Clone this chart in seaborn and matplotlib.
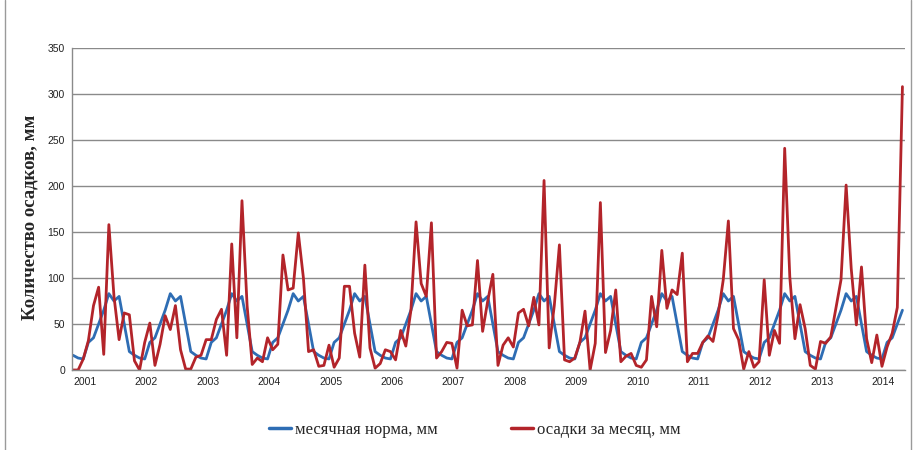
import matplotlib

matplotlib.use("Agg")
import matplotlib.pyplot as plt
from matplotlib.lines import Line2D
import numpy as np
import pandas as pd
import seaborn as sns

# monthly norm, starting from the month of the first point
norm_cycle = [16, 13, 12, 30, 35, 50, 65, 83, 75, 80, 50, 20]

# monthly precipitation, mm
rain = [
    0, 0, 12, 32, 70, 90, 17, 158, 80, 33, 62, 60,
    10, 0, 30, 51, 5, 28, 59, 44, 70, 22, 1, 1,
    14, 16, 33, 33, 55, 66, 16, 137, 35, 184, 70, 6,
    13, 9, 35, 22, 28, 125, 87, 89, 149, 100, 20, 22,
    4, 5, 27, 3, 13, 91, 91, 40, 14, 114, 24, 2,
    7, 22, 20, 11, 43, 26, 65, 161, 94, 80, 160, 13,
    20, 30, 29, 2, 65, 48, 49, 119, 42, 75, 104, 5,
    27, 35, 25, 62, 66, 48, 79, 49, 206, 24, 70, 136,
    11, 9, 13, 30, 64, 0, 29, 182, 19, 43, 87, 9,
    15, 18, 5, 3, 11, 80, 47, 130, 67, 87, 82, 127,
    9, 18, 18, 30, 37, 31, 60, 98, 162, 45, 33, 1,
    20, 3, 9, 98, 16, 43, 29, 241, 101, 34, 71, 45,
    5, 1, 31, 29, 36, 67, 98, 201, 110, 49, 112, 34,
    8, 38, 4, 25, 40, 68, 308,
]
years = [str(y) for y in range(2001, 2015)]

LABEL_NORM = "месячная норма, мм"
LABEL_RAIN = "осадки за месяц, мм"

idx = np.arange(len(rain))
norm = [norm_cycle[i % 12] for i in idx]
df = pd.concat([
    pd.DataFrame({"t": idx, "mm": norm, "series": LABEL_NORM}),
    pd.DataFrame({"t": idx, "mm": rain, "series": LABEL_RAIN}),
])

sns.set_theme(style="white")
plt.rcParams["font.family"] = ["Liberation Sans", "DejaVu Sans"]

fig = plt.figure(figsize=(9.2, 4.5), dpi=100)
ax = fig.add_axes([72 / 920, 80 / 450, 833 / 920, 322 / 450])

sns.lineplot(
    data=df, x="t", y="mm", hue="series",
    palette={LABEL_NORM: "#2e6db4", LABEL_RAIN: "#b3242a"},
    linewidth=2.0, ax=ax, legend=False,
)

ax.set_xlim(-0.2, 162.5)
ax.set_ylim(0, 350)
ax.set_yticks(range(0, 351, 50))
ax.set_xticks([2.3 + 12 * k for k in range(len(years))])
ax.set_xticklabels(years)
ax.tick_params(axis="both", length=0, labelsize=7.5, colors="#222222", pad=5)
ax.yaxis.grid(True, color="#8a8a8a", linewidth=1.0)
ax.set_axisbelow(True)
for side in ["top", "right"]:
    ax.spines[side].set_visible(False)
for side in ["left", "bottom"]:
    ax.spines[side].set_color("#8a8a8a")
    ax.spines[side].set_linewidth(1.0)

ax.set_xlabel("")
ax.set_ylabel("Количество осадков, мм", family=["Liberation Serif"],
              fontweight="bold", fontsize=13.5)
ax.yaxis.set_label_coords(-0.04, 0.475)

handles = [
    Line2D([], [], color="#2e6db4", linewidth=2.5),
    Line2D([], [], color="#b3242a", linewidth=2.5),
]
fig.legend(handles, [LABEL_NORM, LABEL_RAIN], loc="center",
           bbox_to_anchor=(475 / 920, 1 - 430 / 450), ncol=2, frameon=False,
           prop={"family": "Liberation Serif", "size": 12},
           handlelength=1.3, handletextpad=0.25, columnspacing=4.4)

# chart border
for xf in (5 / 920, 911 / 920):
    fig.add_artist(Line2D([xf, xf], [0, 1], color="#9a9a9a", linewidth=1.0,
                          transform=fig.transFigure))

fig.savefig("out.png", dpi=100)
